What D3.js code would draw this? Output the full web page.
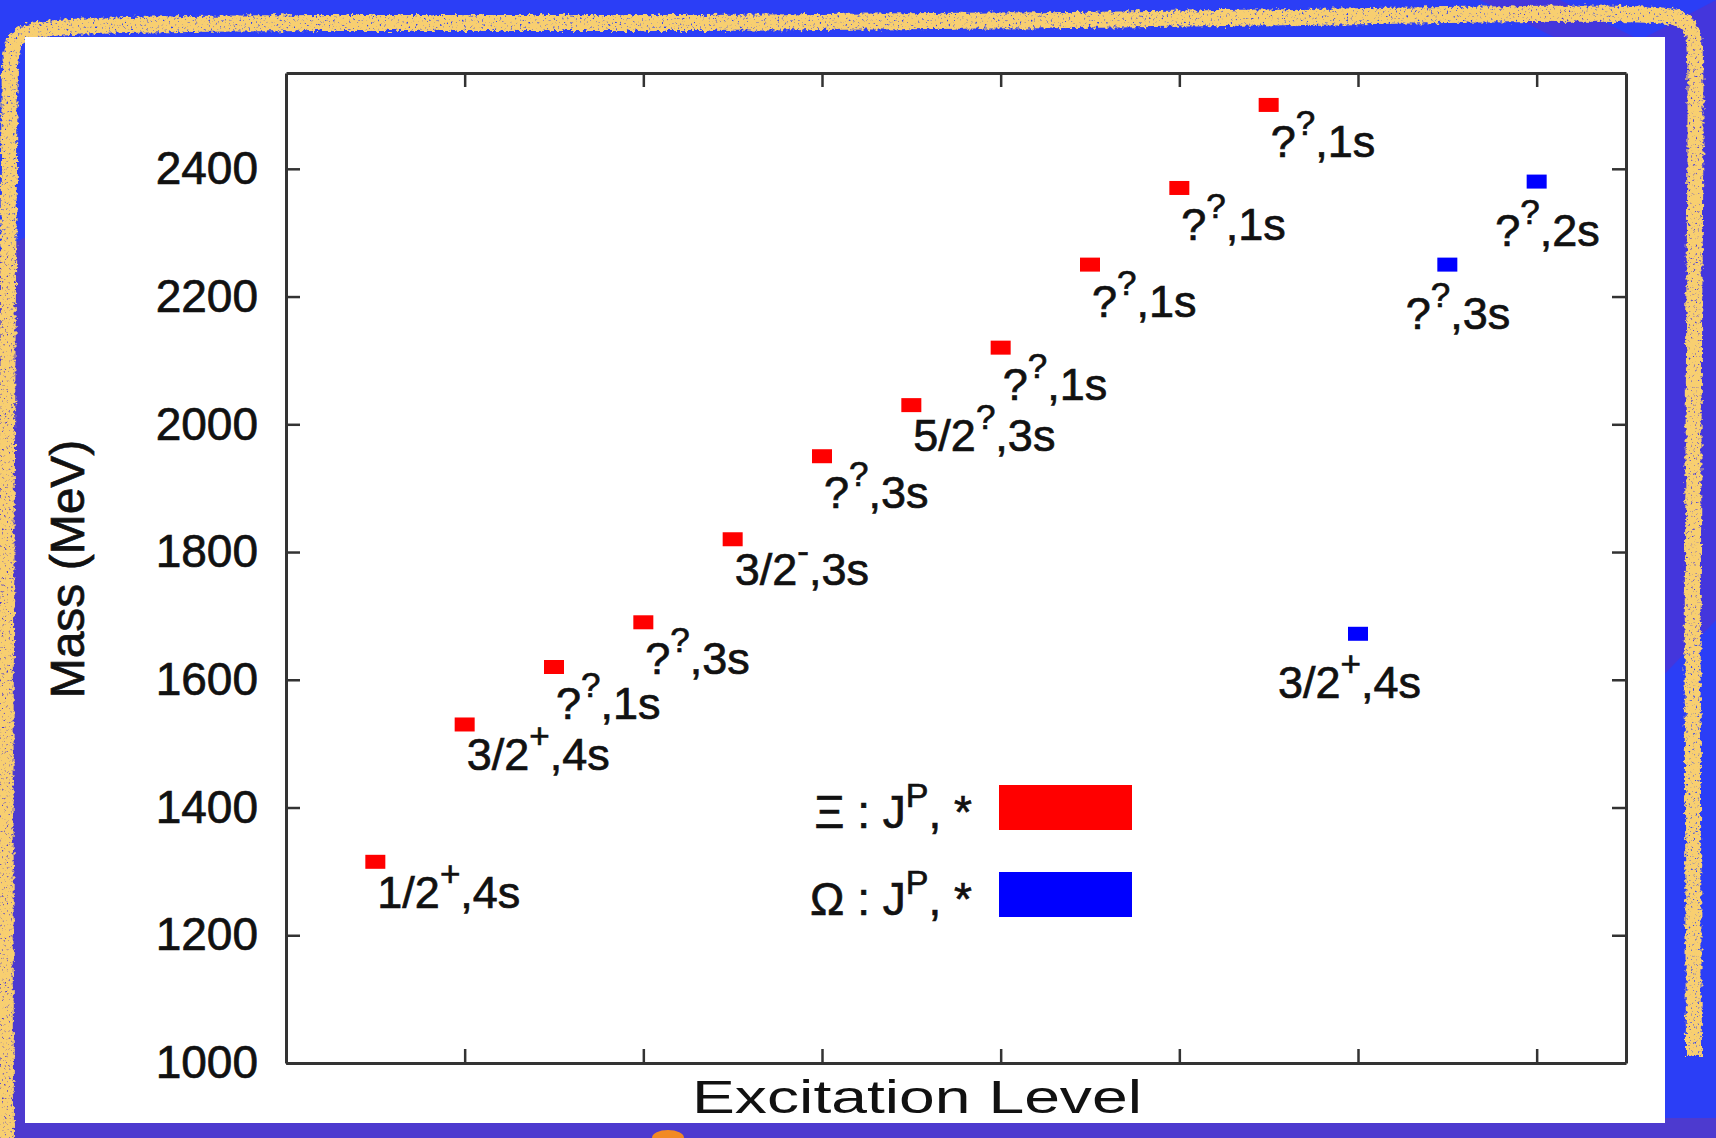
<!DOCTYPE html>
<html>
<head>
<meta charset="utf-8">
<script src="https://cdn.jsdelivr.net/npm/d3@7"></script>
<style>
  html, body { margin: 0; padding: 0; background: #2b3ef6; }
  svg { display: block; }
  text { font-family: "Liberation Sans", Arial, Helvetica, sans-serif; fill: #111; }
  .heavy { stroke: #111; stroke-width: 0.7px; }
</style>
</head>
<body>
<svg id="chart" width="1716" height="1138"></svg>
<script>
// Ξ (cascade) states: excitation level, mass (MeV), J, parity, PDG status
const xiLevels = [0.5, 1, 1.5, 2, 2.5, 3, 3.5, 4, 4.5, 5, 5.5];
const xiMass   = [1315, 1530, 1620, 1690, 1820, 1950, 2030, 2120, 2250, 2370, 2500];
const xiSpin   = ["1/2", "3/2", "?", "?", "3/2", "?", "5/2", "?", "?", "?", "?"];
const xiParity = ["+", "+", "?", "?", "-", "?", "?", "?", "?", "?", "?"];
const xiStatus = ["4s", "4s", "1s", "3s", "3s", "3s", "3s", "1s", "1s", "1s", "1s"];

// Ω states
const omegaLevels = [6, 6.5, 7];
const omegaMass   = [1672, 2250, 2380];
const omegaSpin   = ["3/2", "?", "?"];
const omegaParity = ["+", "?", "?"];
const omegaStatus = ["4s", "3s", "2s"];

const massTicks  = [1000, 1200, 1400, 1600, 1800, 2000, 2200, 2400];
const levelTicks = [1, 2, 3, 4, 5, 6, 7];

const legendSymbols = ["Ξ", "Ω"];
const seriesColors  = ["#ff0000", "#0000ff"];

const W = 1716, H = 1138;
const svg = d3.select("#chart");

// ---- decorative backdrop ----
const defs = svg.append("defs");
const chalk = defs.append("filter").attr("id", "chalk")
  .attr("x", "-5%").attr("y", "-5%").attr("width", "110%").attr("height", "110%");
chalk.append("feTurbulence").attr("type", "fractalNoise").attr("baseFrequency", "0.25")
  .attr("numOctaves", 2).attr("seed", 4).attr("result", "noise");
chalk.append("feDisplacementMap").attr("in", "SourceGraphic").attr("in2", "noise")
  .attr("scale", 7).attr("xChannelSelector", "R").attr("yChannelSelector", "G").attr("result", "disp");
chalk.append("feTurbulence").attr("type", "fractalNoise").attr("baseFrequency", "0.45")
  .attr("numOctaves", 2).attr("seed", 9).attr("result", "grain");
chalk.append("feColorMatrix").attr("in", "grain").attr("type", "matrix")
  .attr("values", "0 0 0 0 1  0 0 0 0 1  0 0 0 0 1  5 0 0 0 -0.9").attr("result", "mask");
chalk.append("feComposite").attr("in", "disp").attr("in2", "mask").attr("operator", "in");

svg.append("rect").attr("width", W).attr("height", H).attr("fill", "#2b3ef6");
const purple = "#4d3acf";
svg.append("polygon").attr("points", "0,250 30,235 30,1138 0,1138").attr("fill", purple);
svg.append("polygon").attr("points", "0,1118 1716,1118 1716,1138 0,1138").attr("fill", purple);
svg.append("polygon").attr("points", "1640,40 1716,0 1716,620 1640,700").attr("fill", "#4436dc");
svg.append("polygon").attr("points", "1480,0 1560,0 1640,40 1560,40").attr("fill", "#4436dc");
svg.append("ellipse").attr("cx", 668).attr("cy", 1138).attr("rx", 16).attr("ry", 8).attr("fill", "#f28a25");

// chalk frame
const frame = d3.line().curve(d3.curveBasis);
svg.append("path")
  .attr("d", frame([[6, 1140], [5, 700], [8, 300], [9, 40], [14, 26], [300, 22], [700, 24], [1100, 20], [1500, 14], [1690, 12],
                    [1697, 30], [1694, 300], [1692, 700], [1694, 1056]]))
  .attr("fill", "none").attr("stroke", "#f8cf70").attr("stroke-width", 16)
  .attr("stroke-linejoin", "round").attr("filter", "url(#chalk)");

// white card
svg.append("rect").attr("x", 25).attr("y", 37).attr("width", 1640).attr("height", 1086).attr("fill", "#ffffff");

// ---- chart ----
const x = d3.scaleLinear().domain([0, 7.5]).range([286, 1626]);
const y = d3.scaleLinear().domain([1000, 2550]).range([1063, 73]);

const axisColor = "#333";
function styleAxis(g) {
  g.selectAll("path.domain").attr("stroke", axisColor).attr("stroke-width", 3);
  g.selectAll(".tick line").attr("stroke", axisColor).attr("stroke-width", 2.5);
}

svg.append("g").attr("transform", `translate(${x.range()[0]},0)`)
  .call(d3.axisLeft(y).tickValues(massTicks).tickFormat(d3.format("d"))
    .tickSize(-14).tickSizeOuter(0).tickPadding(28))
  .call(styleAxis)
  .call(g => g.selectAll(".tick text").attr("font-size", 46).attr("fill", "#111").attr("class", "heavy")
    .attr("font-family", "'Liberation Sans', Arial, sans-serif"));

svg.append("g").attr("transform", `translate(${x.range()[1]},0)`)
  .call(d3.axisRight(y).tickValues(massTicks).tickSize(-14).tickSizeOuter(0).tickFormat(""))
  .call(styleAxis);

svg.append("g").attr("transform", `translate(0,${y.range()[0]})`)
  .call(d3.axisBottom(x).tickValues(levelTicks).tickSize(-14).tickSizeOuter(0).tickFormat(""))
  .call(styleAxis);

svg.append("g").attr("transform", `translate(0,${y.range()[1]})`)
  .call(d3.axisTop(x).tickValues(levelTicks).tickSize(-14).tickSizeOuter(0).tickFormat(""))
  .call(styleAxis);

// axis titles
svg.append("text").attr("class", "heavy")
  .attr("transform", "translate(84,569) rotate(-90)")
  .attr("text-anchor", "middle").attr("font-size", 48).text("Mass (MeV)");

svg.append("text")
  .attr("x", 692).attr("y", 1113)
  .attr("textLength", 450).attr("lengthAdjust", "spacingAndGlyphs")
  .attr("font-family", "'DejaVu Sans', sans-serif").attr("font-size", 46)
  .text("Excitation Level");

// state markers and their J^P, status labels; labels whose J is unknown
// carry a taller "?" superscript and sit a little lower
const MW = 20, MH = 14;
function drawSeries(levels, masses, spins, parities, status, color, anchor, dx, dy) {
  const g = svg.append("g");
  levels.forEach((lv, i) => {
    const cx = x(lv), cy = y(masses[i]);
    g.append("rect").attr("x", cx - MW / 2).attr("y", cy - MH / 2)
      .attr("width", MW).attr("height", MH).attr("fill", color);
    const drop = (anchor === "start" && spins[i] === "?") ? 6 : 0;
    const t = g.append("text").attr("class", "heavy").attr("x", cx + dx).attr("y", cy + dy + drop)
      .attr("text-anchor", anchor).attr("font-size", 45);
    t.append("tspan").text(spins[i]);
    t.append("tspan").attr("font-size", 35).attr("dy", -22).text(parities[i]);
    t.append("tspan").attr("dy", 22).text("," + status[i]);
  });
}
drawSeries(xiLevels, xiMass, xiSpin, xiParity, xiStatus, seriesColors[0], "start", 2, 46);
drawSeries(omegaLevels, omegaMass, omegaSpin, omegaParity, omegaStatus, seriesColors[1], "end", 63, 64);

// legend
const legend = svg.append("g");
legendSymbols.forEach((s, i) => {
  const ly = 828 + i * 87;
  const t = legend.append("text").attr("class", "heavy").attr("x", 972).attr("y", ly)
    .attr("text-anchor", "end").attr("font-size", 46);
  t.append("tspan").text(s + " : J");
  t.append("tspan").attr("font-size", 34).attr("dy", -21).text("P");
  t.append("tspan").attr("dy", 21).text(", *");
  legend.append("rect").attr("x", 999).attr("y", ly - 43).attr("width", 133).attr("height", 45).attr("fill", seriesColors[i]);
});
</script>
</body>
</html>
